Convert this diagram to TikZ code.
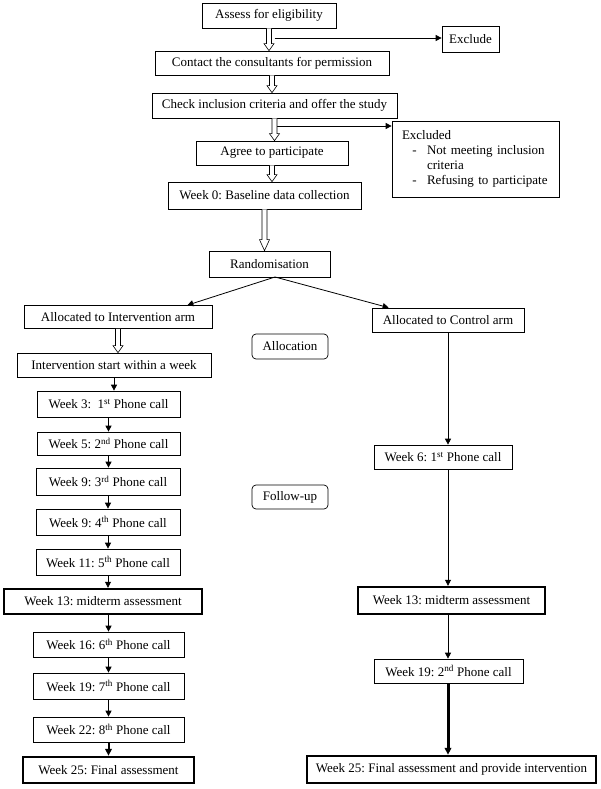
\documentclass[tikz,border=0pt]{standalone}
\usepackage{fontspec}
\setmainfont{Liberation Serif}
\frenchspacing
\usetikzlibrary{calc,arrows.meta}
\tikzset{
  box/.style={draw, line width=0.7pt, inner sep=0pt, align=center},
  thickbox/.style={box, line width=2.4pt},
  roundbox/.style={box, rounded corners=4pt},
  arr/.style={line width=0.8pt, -{Triangle[length=6pt,width=6pt]}},
  thickarr/.style={line width=2pt, -{Triangle[length=7pt,width=6.5pt]}},
  thickerarr/.style={line width=3pt, -{Triangle[length=7pt,width=6.5pt]}},
  hollow/.style={draw, line width=0.6pt, fill=white},
}
% hollow block arrow: source, target, head length
\newcommand{\hollowarr}[3]{%
  \path[hollow] let \p1=(#1.south), \p2=(#2.north) in
    (\x1-2.5pt,\y1) -- (\x1-2.5pt,\y2+#3) -- (\x1-5pt,\y2+#3) -- (\x1,\y2)
    -- (\x1+5pt,\y2+#3) -- (\x1+2.5pt,\y2+#3) -- (\x1+2.5pt,\y1);}
\begin{document}
\begin{tikzpicture}[x=1pt,y=-1pt,font=\fontsize{13}{15}\selectfont]
\useasboundingbox (0,0) rectangle (600,789);
% top part
\node[box, minimum width=134pt, minimum height=25pt] (assess) at (269,15.5) {Assess for eligibility};
\node[box, minimum width=57pt, minimum height=26pt] (exclude) at (470.5,39) {Exclude};
\node[box, minimum width=234pt, minimum height=24pt] (contact) at (272,63) {Contact the consultants for permission};
\node[box, minimum width=245pt, minimum height=25pt] (check) at (274.5,105.5) {Check inclusion criteria and offer the study};
\node[box, minimum width=167pt, minimum height=76pt, text width=147pt, inner xsep=10pt, align=left] (excluded) at (475.5,159)
  {Excluded\\
   \makebox[25pt][c]{-}Not meeting inclusion\\
   \hspace*{25pt}criteria\\
   \makebox[25pt][c]{-}Refusing to participate};
\node[box, minimum width=152pt, minimum height=24pt] (agree) at (272,153) {Agree to participate};
\node[box, minimum width=193pt, minimum height=27pt] (week0) at (264.5,195.5) {Week 0: Baseline data collection};
\node[box, minimum width=121pt, minimum height=26pt] (rand) at (269.5,264) {Randomisation};
% allocation
\node[box, minimum width=188pt, minimum height=23pt] (ai) at (118,317) {Allocated to Intervention arm};
\node[box, minimum width=152pt, minimum height=24pt] (ac) at (448,320) {Allocated to Control arm};
\node[roundbox, minimum width=76pt, minimum height=25pt] (alloc) at (290,346.5) {Allocation};
\node[roundbox, minimum width=76pt, minimum height=24pt] (follow) at (290,497) {Follow-up};
% intervention arm
\node[box, minimum width=194pt, minimum height=24pt] (is) at (114,365) {Intervention start within a week};
\node[box, minimum width=143pt, minimum height=26pt] (w3) at (108.5,404) {Week 3:\ \ 1\textsuperscript{st} Phone call};
\node[box, minimum width=143pt, minimum height=23pt] (w5) at (108.5,443.5) {Week 5: 2\textsuperscript{nd} Phone call};
\node[box, minimum width=144pt, minimum height=27pt] (w9a) at (108,481.5) {Week 9: 3\textsuperscript{rd} Phone call};
\node[box, minimum width=144pt, minimum height=26pt] (w9b) at (108,522) {Week 9: 4\textsuperscript{th} Phone call};
\node[box, minimum width=144pt, minimum height=26pt] (w11) at (108,562) {Week 11: 5\textsuperscript{th} Phone call};
\node[thickbox, minimum width=198pt, minimum height=25pt] (w13) at (103,601.5) {Week 13: midterm assessment};
\node[box, minimum width=151pt, minimum height=25pt] (w16) at (108.5,644.5) {Week 16: 6\textsuperscript{th} Phone call};
\node[box, minimum width=151pt, minimum height=26pt] (w19) at (108.5,686) {Week 19: 7\textsuperscript{th} Phone call};
\node[box, minimum width=151pt, minimum height=25pt] (w22) at (108.5,729.5) {Week 22: 8\textsuperscript{th} Phone call};
\node[thickbox, minimum width=171pt, minimum height=26pt] (w25) at (108.5,770) {Week 25: Final assessment};
% control arm
\node[box, minimum width=138pt, minimum height=24pt] (w6r) at (443,457) {Week 6: 1\textsuperscript{st} Phone call};
\node[thickbox, minimum width=187pt, minimum height=27pt] (w13r) at (451.5,600.5) {Week 13: midterm assessment};
\node[box, minimum width=149pt, minimum height=24pt] (w19r) at (448.5,671) {Week 19: 2\textsuperscript{nd} Phone call};
\node[thickbox, minimum width=289pt, minimum height=27pt] (w25r) at (451.5,769.5) {Week 25: Final assessment and provide intervention};
% side exits
\coordinate (ex1) at (274.5,38);
\coordinate (ex2) at (277,126);
\draw[arr] (ex1) -- (ex1 -| exclude.west);
\draw[arr] (ex2) -- (ex2 -| excluded.west);
% hollow arrows
\hollowarr{assess}{contact}{7pt}
\hollowarr{contact}{check}{7pt}
\hollowarr{check}{agree}{7pt}
\hollowarr{agree}{week0}{7pt}
\hollowarr{week0}{rand}{11pt}
\hollowarr{ai}{is}{7pt}
% randomisation split
\coordinate (rs) at (275,277);
\draw[arr] (rs) -- ($(ai.north east)+(-25,0)$);
\draw[arr] (rs) -- ($(ac.north west)+(17,0)$);
% intervention chain
\draw[arr] (is.south) -- (is.south |- w3.north);
\draw[arr] (w3.south) -- (w3.south |- w5.north);
\draw[arr] (w5.south) -- (w5.south |- w9a.north);
\draw[arr] (w9a.south) -- (w9a.south |- w9b.north);
\draw[arr] (w9b.south) -- (w9b.south |- w11.north);
\draw[arr] (w11.south) -- (w11.south |- w13.north);
\draw[arr] (w13.south -| w16) -- (w16.north);
\draw[arr] (w16.south) -- (w16.south |- w19.north);
\draw[arr] (w19.south) -- (w19.south |- w22.north);
\draw[thickarr] (w22.south) -- (w22.south |- w25.north);
% control chain
\draw[arr] (ac.south) -- (ac.south |- w6r.north);
\draw[arr] (w6r.south -| ac) -- (w13r.north -| ac);
\draw[arr] (w13r.south -| ac) -- (w19r.north -| ac);
\draw[thickerarr] (w19r.south -| ac) -- (w25r.north -| ac);
\end{tikzpicture}
\end{document}
